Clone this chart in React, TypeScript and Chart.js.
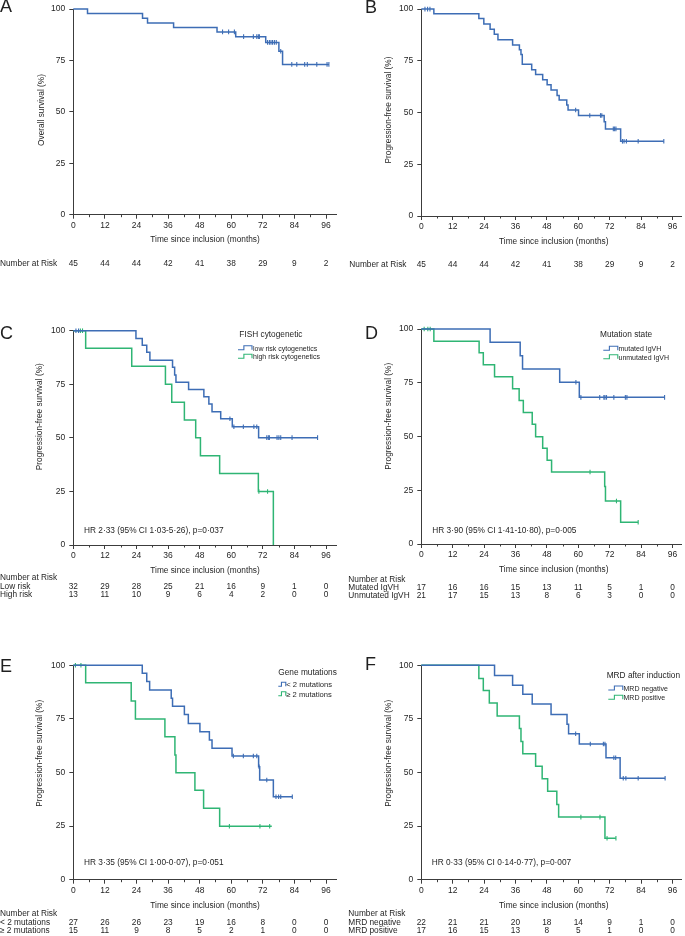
import React, { useEffect, useRef } from 'react';
import { Chart, registerables } from 'chart.js';

Chart.register(...registerables);

const FONT = '"Liberation Sans", Arimo, Arial, sans-serif';
const TEXT = '#1f1f1f';
const AXIS = '#3c3c3c';
const BLUE = '#3d6db5';
const GREEN = '#2fb574';

const xMajorTicks = [0, 12, 24, 36, 48, 60, 72, 84, 96];
const xMinorTicks = [6, 18, 30, 42, 54, 66, 78, 90];
const yTicks = [0, 25, 50, 75, 100];
const riskTimes = [0, 12, 24, 36, 48, 60, 72, 84, 96];

// A — overall survival
const aTimes = [0, 5.4, 26.3, 28.2, 38.1, 54.6, 61.7, 73.1, 78.1, 79.5];
const aSurv = [100, 97.8, 95.6, 93.3, 91.1, 88.9, 86.6, 83.8, 79.5, 73.1];
const aCensor = [56.7, 59.0, 61.2, 64.7, 68.4, 69.7, 70.3, 70.7, 73.8, 74.5, 75.1, 75.7, 76.4, 77.1, 78.8, 83.0, 84.9, 87.9, 88.9, 92.5, 96.4, 97.1];
const aRisk = [45, 44, 44, 42, 41, 38, 29, 9, 2];

// B — progression-free survival
const bTimes = [0, 4.8, 22.0, 23.9, 26.3, 27.9, 29.3, 34.9, 37.5, 38.1, 38.6, 42.2, 43.7, 46.4, 48.1, 49.6, 51.9, 52.7, 55.6, 56.1, 60.1, 69.9, 70.4, 76.2];
const bSurv = [100, 97.8, 95.4, 92.8, 90.3, 87.8, 85.2, 82.7, 80.3, 78.0, 73.3, 70.7, 68.4, 65.8, 63.4, 60.9, 58.3, 56.1, 53.6, 51.2, 48.6, 45.5, 42.1, 36.1];
const bCensor = [1.4, 2.4, 3.3, 59.0, 64.4, 68.5, 69.0, 73.4, 73.9, 74.4, 76.9, 77.5, 78.4, 82.9, 92.7];
const bRisk = [45, 44, 44, 42, 41, 38, 29, 9, 2];

// C — FISH cytogenetic
const cLowTimes = [0, 23.8, 26.2, 27.9, 29.1, 37.7, 38.5, 39.0, 43.8, 49.6, 51.5, 52.7, 56.0, 60.4, 70.4];
const cLowSurv = [100, 96.4, 93.2, 89.9, 86.2, 82.9, 79.3, 76.0, 72.6, 69.2, 65.8, 62.2, 58.9, 55.2, 50.1];
const cLowCensor = [1.0, 2.0, 59.5, 61.0, 64.6, 68.6, 69.7, 73.5, 74.1, 74.5, 77.4, 78.1, 78.8, 83.1, 92.8];
const cHighTimes = [0, 4.7, 22.2, 35.0, 37.4, 42.2, 46.5, 48.3, 55.6, 70.3, 76.0];
const cHighSurv = [100, 91.8, 83.4, 75.0, 66.6, 58.3, 50.0, 41.7, 33.4, 25.0, 0];
const cHighCensor = [2.7, 3.5, 70.5, 73.8];
const cLowRisk = [32, 29, 28, 25, 21, 16, 9, 1, 0];
const cHighRisk = [13, 11, 10, 9, 6, 4, 2, 0, 0];

// D — mutation state
const dMutTimes = [0, 26.3, 37.8, 38.7, 52.9, 60.4];
const dMutSurv = [100, 93.8, 87.6, 81.4, 75.2, 68.2];
const dMutCensor = [59.1, 61.0, 68.2, 69.8, 70.2, 70.8, 73.6, 78.0, 78.6, 93.0];
const dUnTimes = [0, 4.8, 22.1, 23.7, 28.0, 34.9, 37.4, 39.0, 42.4, 43.7, 46.4, 48.1, 49.8, 70.1, 70.4, 76.2];
const dUnSurv = [100, 94.3, 89.0, 83.4, 77.8, 72.2, 66.8, 61.2, 55.7, 49.9, 44.5, 38.9, 33.5, 26.7, 20.0, 10.1];
const dUnCensor = [1.1, 2.5, 3.4, 64.5, 74.6, 82.9];
const dMutRisk = [17, 16, 16, 15, 13, 11, 5, 1, 0];
const dUnRisk = [21, 17, 15, 13, 8, 6, 3, 0, 0];

// E — gene mutations
const eLowTimes = [0, 26.2, 27.9, 29.0, 37.2, 37.7, 42.2, 43.7, 48.1, 51.7, 52.7, 60.3, 70.4, 70.8, 76.0];
const eLowSurv = [100, 96.3, 92.5, 88.5, 84.6, 80.9, 77.0, 72.9, 69.0, 65.2, 61.3, 57.7, 52.7, 46.5, 38.7];
const eLowCensor = [60.8, 64.6, 68.4, 69.7, 70.6, 73.5, 77.0, 78.0, 78.8, 83.2];
const eHighTimes = [0, 4.7, 22.0, 23.6, 34.8, 38.6, 39.0, 46.2, 49.5, 55.6];
const eHighSurv = [100, 91.9, 83.4, 75.0, 66.7, 58.2, 49.9, 41.7, 33.3, 24.9];
const eHighCensor = [0.8, 2.9, 59.3, 70.9, 74.6];
const eHighEnd = 75.4;
const eLowRisk = [27, 26, 26, 23, 19, 16, 8, 0, 0];
const eHighRisk = [15, 11, 9, 8, 5, 2, 1, 0, 0];

// F — MRD after induction
const fNegTimes = [0, 28.0, 34.9, 38.8, 42.4, 49.6, 55.7, 56.3, 60.4, 70.6, 76.0];
const fNegSurv = [100, 95.2, 90.7, 86.5, 82.0, 77.0, 72.5, 68.1, 63.3, 56.9, 47.3];
const fNegCensor = [59.0, 64.6, 69.6, 70.2, 73.6, 74.3, 77.2, 78.2, 82.9, 93.2];
const fPosTimes = [0, 22.0, 23.7, 26.0, 29.0, 37.5, 38.1, 38.8, 43.7, 46.2, 48.3, 51.8, 52.5, 70.2];
const fPosSurv = [100, 93.9, 88.2, 82.4, 76.4, 70.5, 64.5, 58.8, 52.9, 47.1, 41.2, 35.1, 29.2, 19.3];
const fPosCensor = [61.0, 68.3, 71.0, 74.4];
const fNegRisk = [22, 21, 21, 20, 18, 14, 9, 1, 0];
const fPosRisk = [17, 16, 15, 13, 8, 5, 1, 0, 0];

type Curve = { times: number[]; surv: number[]; censor: number[]; end?: number; color: string };
type Row = { label: string; values: number[]; y: number };
type Legend = { title: string; tx: number; ty: number; iconX: number; iconW: number; textX: number; size: number; items: { label: string; color: string; y: number }[] };
type PanelCfg = {
  key: string; ox: number; oy: number; w: number; h: number;
  l: number; x96: number; t: number; b: number; xMax: number;
  letter: { x: number; y: number };
  yTitle: string; yTitlePos: { x: number; y: number };
  xTitlePos: { x: number; y: number };
  nar: { x: number; y: number } | null;
  rowLabelX: number; rows: Row[];
  legend?: Legend; hr?: { text: string; x: number; y: number };
  curves: Curve[];
};

const PFS = 'Progression-free survival (%)';
const XT = 'Time since inclusion (months)';

const panels: PanelCfg[] = [
  {
    key: 'A', ox: 0, oy: 0, w: 340, h: 290, l: 73.3, x96: 326, t: 5.3, b: 214.7, xMax: 100,
    letter: { x: 0, y: 7 }, yTitle: 'Overall survival (%)', yTitlePos: { x: 42, y: 110 }, xTitlePos: { x: 205, y: 240 },
    nar: null, rowLabelX: 0, rows: [{ label: 'Number at Risk', values: aRisk, y: 264 }],
    curves: [{ times: aTimes, surv: aSurv, censor: aCensor, color: BLUE }],
  },
  {
    key: 'B', ox: 340, oy: 0, w: 345, h: 290, l: 421.3, x96: 674.7, t: 6.3, b: 216, xMax: 99.5,
    letter: { x: 365, y: 8 }, yTitle: PFS, yTitlePos: { x: 388.3, y: 110 }, xTitlePos: { x: 553.8, y: 242 },
    nar: null, rowLabelX: 349.3, rows: [{ label: 'Number at Risk', values: bRisk, y: 264.3 }],
    curves: [{ times: bTimes, surv: bSurv, censor: bCensor, color: BLUE }],
  },
  {
    key: 'C', ox: 0, oy: 290, w: 340, h: 330, l: 73.3, x96: 326, t: 330.7, b: 545, xMax: 100,
    letter: { x: 0, y: 334 }, yTitle: PFS, yTitlePos: { x: 39.3, y: 416.7 }, xTitlePos: { x: 205, y: 571 },
    nar: { x: 0, y: 577.3 }, rowLabelX: 0,
    rows: [{ label: 'Low risk', values: cLowRisk, y: 586.7 }, { label: 'High risk', values: cHighRisk, y: 595 }],
    legend: {
      title: 'FISH cytogenetic', tx: 239.3, ty: 335, iconX: 238, iconW: 14, textX: 253, size: 7,
      items: [{ label: 'low risk cytogenetics', color: BLUE, y: 348.7 }, { label: 'high risk cytogenetics', color: GREEN, y: 357.3 }],
    },
    hr: { text: 'HR 2·33 (95% CI 1·03-5·26), p=0·037', x: 84, y: 530.7 },
    curves: [
      { times: cLowTimes, surv: cLowSurv, censor: cLowCensor, color: BLUE },
      { times: cHighTimes, surv: cHighSurv, censor: cHighCensor, color: GREEN },
    ],
  },
  {
    key: 'D', ox: 340, oy: 290, w: 345, h: 330, l: 421.3, x96: 674.7, t: 329, b: 544, xMax: 99.5,
    letter: { x: 365, y: 334 }, yTitle: PFS, yTitlePos: { x: 388.3, y: 416.3 }, xTitlePos: { x: 553.8, y: 569.3 },
    nar: { x: 348.3, y: 579.7 }, rowLabelX: 348.3,
    rows: [{ label: 'Mutated IgVH', values: dMutRisk, y: 587.7 }, { label: 'Unmutated IgVH', values: dUnRisk, y: 596 }],
    legend: {
      title: 'Mutation state', tx: 600, ty: 334.3, iconX: 603.3, iconW: 14.5, textX: 618.5, size: 7,
      items: [{ label: 'mutated IgVH', color: BLUE, y: 349.3 }, { label: 'unmutated IgVH', color: GREEN, y: 357.7 }],
    },
    hr: { text: 'HR 3·90 (95% CI 1·41-10·80), p=0·005', x: 432.3, y: 530.7 },
    curves: [
      { times: dMutTimes, surv: dMutSurv, censor: dMutCensor, color: BLUE },
      { times: dUnTimes, surv: dUnSurv, censor: dUnCensor, color: GREEN },
    ],
  },
  {
    key: 'E', ox: 0, oy: 620, w: 340, h: 316, l: 73.3, x96: 326, t: 665.3, b: 879.7, xMax: 100,
    letter: { x: 0, y: 666.7 }, yTitle: PFS, yTitlePos: { x: 39.3, y: 753.3 }, xTitlePos: { x: 205, y: 905.7 },
    nar: { x: 0, y: 914 }, rowLabelX: 0,
    rows: [{ label: '< 2 mutations', values: eLowRisk, y: 922.7 }, { label: '≥ 2 mutations', values: eHighRisk, y: 931 }],
    legend: {
      title: 'Gene mutations', tx: 278.3, ty: 672.3, iconX: 278.3, iconW: 7.5, textX: 286.3, size: 7.6,
      items: [{ label: '< 2 mutations', color: BLUE, y: 685.3 }, { label: '≥ 2 mutations', color: GREEN, y: 694.7 }],
    },
    hr: { text: 'HR 3·35 (95% CI 1·00-0·07), p=0·051', x: 84, y: 863 },
    curves: [
      { times: eLowTimes, surv: eLowSurv, censor: eLowCensor, color: BLUE },
      { times: eHighTimes, surv: eHighSurv, censor: eHighCensor, end: eHighEnd, color: GREEN },
    ],
  },
  {
    key: 'F', ox: 340, oy: 620, w: 345, h: 316, l: 421.3, x96: 674.7, t: 665.3, b: 879.7, xMax: 99.5,
    letter: { x: 365, y: 665 }, yTitle: PFS, yTitlePos: { x: 388.3, y: 753.3 }, xTitlePos: { x: 553.8, y: 905.7 },
    nar: { x: 348.3, y: 914 }, rowLabelX: 348.3,
    rows: [{ label: 'MRD negative', values: fNegRisk, y: 922.7 }, { label: 'MRD positive', values: fPosRisk, y: 931 }],
    legend: {
      title: 'MRD after induction', tx: 606.7, ty: 676, iconX: 608.3, iconW: 14.5, textX: 623.5, size: 7,
      items: [{ label: 'MRD negative', color: BLUE, y: 689 }, { label: 'MRD positive', color: GREEN, y: 698.3 }],
    },
    hr: { text: 'HR 0·33 (95% CI 0·14-0·77), p=0·007', x: 431.7, y: 862.7 },
    curves: [
      { times: fNegTimes, surv: fNegSurv, censor: fNegCensor, color: BLUE },
      { times: fPosTimes, surv: fPosSurv, censor: fPosCensor, color: GREEN },
    ],
  },
];

function levelAt(times: number[], surv: number[], t: number) {
  let s = surv[0];
  for (let i = 0; i < times.length; i++) if (times[i] <= t) s = surv[i];
  return s;
}

function kmPoints(c: Curve) {
  const pts = c.times.map((t, i) => ({ x: t, y: c.surv[i], c: false }));
  c.censor.forEach((t) => pts.push({ x: t, y: levelAt(c.times, c.surv, t), c: true }));
  pts.sort((a, b) => a.x - b.x || (a.c ? 1 : 0) - (b.c ? 1 : 0));
  const last = pts[pts.length - 1];
  if (c.end != null && c.end > last.x) pts.push({ x: c.end, y: last.y, c: false });
  return pts;
}

function txt(ctx: CanvasRenderingContext2D, s: string, x: number, y: number, size: number, align: CanvasTextAlign = 'left') {
  ctx.font = `${size}px ${FONT}`;
  ctx.fillStyle = TEXT;
  ctx.textAlign = align;
  ctx.textBaseline = 'middle';
  ctx.fillText(s, x, y);
}

function buildConfig(p: PanelCfg): any {
  const rightEdge = p.l + ((p.x96 - p.l) * p.xMax) / 96;
  const annot = {
    id: 'annot' + p.key,
    afterDraw(chart: any) {
      const ctx: CanvasRenderingContext2D = chart.ctx;
      const xs = chart.scales.x;
      const ca = chart.chartArea;
      const X = (v: number) => v - p.ox;
      const Y = (v: number) => v - p.oy;
      ctx.save();
      ctx.strokeStyle = AXIS;
      ctx.lineWidth = 1;
      xMinorTicks.forEach((v) => {
        const x = Math.round(xs.getPixelForValue(v)) + 0.5;
        ctx.beginPath();
        ctx.moveTo(x, ca.bottom);
        ctx.lineTo(x, ca.bottom + 2.5);
        ctx.stroke();
      });
      txt(ctx, p.key, X(p.letter.x), Y(p.letter.y), 18);
      ctx.save();
      ctx.translate(X(p.yTitlePos.x), Y(p.yTitlePos.y));
      ctx.rotate(-Math.PI / 2);
      txt(ctx, p.yTitle, 0, 0, 8.3, 'center');
      ctx.restore();
      txt(ctx, XT, X(p.xTitlePos.x), Y(p.xTitlePos.y), 8.3, 'center');
      if (p.nar) txt(ctx, 'Number at Risk', X(p.nar.x), Y(p.nar.y), 8.3);
      p.rows.forEach((r) => {
        txt(ctx, r.label, X(p.rowLabelX), Y(r.y), 8.3);
        r.values.forEach((v, i) => {
          txt(ctx, String(v), xs.getPixelForValue(riskTimes[i]), Y(r.y), 8.3, 'center');
        });
      });
      if (p.legend) {
        const lg = p.legend;
        txt(ctx, lg.title, X(lg.tx), Y(lg.ty), 8.3);
        lg.items.forEach((it) => {
          const x0 = X(lg.iconX);
          const yb = Y(it.y) + 1;
          const yt = Y(it.y) - 3;
          ctx.strokeStyle = it.color;
          ctx.lineWidth = 1.1;
          ctx.beginPath();
          ctx.moveTo(x0, yb);
          ctx.lineTo(x0 + lg.iconW * 0.42, yb);
          ctx.lineTo(x0 + lg.iconW * 0.42, yt);
          ctx.lineTo(x0 + lg.iconW, yt);
          ctx.lineTo(x0 + lg.iconW, yb);
          ctx.stroke();
          txt(ctx, it.label, X(lg.textX), Y(it.y), lg.size);
        });
      }
      if (p.hr) txt(ctx, p.hr.text, X(p.hr.x), Y(p.hr.y), 8.3);
      ctx.restore();
    },
  };

  const datasets = p.curves.map((c) => ({
    data: kmPoints(c),
    borderColor: c.color,
    backgroundColor: c.color,
    borderWidth: 1.5,
    stepped: 'before',
    fill: false,
    tension: 0,
    pointStyle: 'line',
    pointRotation: 90,
    pointRadius: (ctx: any) => (ctx.raw && ctx.raw.c ? 2.3 : 0),
    pointHoverRadius: 0,
    pointBorderColor: c.color,
    pointBorderWidth: 1.1,
    clip: false,
  }));

  const tickFont = { family: FONT, size: 8.5 };
  return {
    type: 'line',
    data: { datasets },
    plugins: [annot],
    options: {
      animation: false,
      responsive: false,
      devicePixelRatio: 1,
      events: [],
      layout: {
        padding: { left: 0, top: p.t - p.oy, right: p.w - (rightEdge - p.ox), bottom: 0 },
      },
      plugins: { legend: { display: false }, tooltip: { enabled: false }, title: { display: false } },
      scales: {
        x: {
          type: 'linear',
          min: 0,
          max: p.xMax,
          afterBuildTicks: (s: any) => {
            s.ticks = xMajorTicks.map((v) => ({ value: v }));
          },
          afterFit: (s: any) => {
            s.height = p.h - (p.b - p.oy);
          },
          ticks: { font: tickFont, color: TEXT, padding: 2, maxRotation: 0, autoSkip: false },
          grid: { drawOnChartArea: false, drawTicks: true, tickLength: 4, tickColor: AXIS, tickWidth: 1 },
          border: { display: true, color: AXIS, width: 1 },
        },
        y: {
          type: 'linear',
          min: 0,
          max: 100,
          afterBuildTicks: (s: any) => {
            s.ticks = yTicks.map((v) => ({ value: v }));
          },
          afterFit: (s: any) => {
            s.width = p.l - p.ox;
          },
          ticks: { font: tickFont, color: TEXT, padding: 4 },
          grid: { drawOnChartArea: false, drawTicks: true, tickLength: 4, tickColor: AXIS, tickWidth: 1 },
          border: { display: true, color: AXIS, width: 1 },
        },
      },
    },
  };
}

function PanelChart({ p }: { p: PanelCfg }) {
  const ref = useRef<HTMLCanvasElement>(null);
  useEffect(() => {
    const chart = new Chart(ref.current as HTMLCanvasElement, buildConfig(p));
    return () => chart.destroy();
  }, [p]);
  return (
    <canvas
      ref={ref}
      width={p.w}
      height={p.h}
      style={{ position: 'absolute', left: p.ox, top: p.oy, width: p.w, height: p.h, display: 'block' }}
    />
  );
}

export default function App() {
  return (
    <div style={{ position: 'absolute', left: 0, top: 0, width: 685, height: 936, background: '#ffffff', overflow: 'hidden' }}>
      {panels.map((p) => (
        <PanelChart key={p.key} p={p} />
      ))}
    </div>
  );
}
